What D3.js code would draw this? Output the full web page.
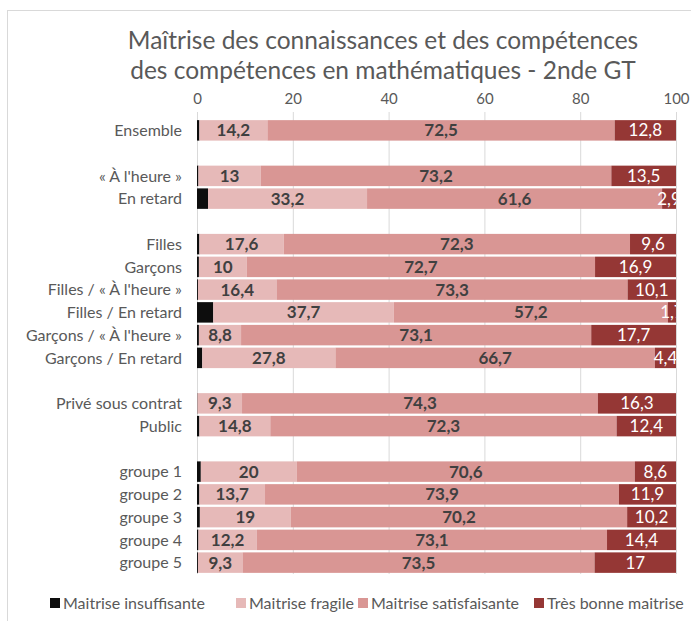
<!DOCTYPE html>
<html>
<head>
<meta charset="utf-8">
<script src="https://cdn.jsdelivr.net/npm/d3@7"></script>
<style>
  body { margin: 0; background: #fff; }
  text { font-family: Lato, "Open Sans", sans-serif; }
</style>
</head>
<body>
<svg id="chart" width="691" height="621"></svg>
<script>
// categories ("_b" entries are the blank separator rows)
const categories = [
	"Ensemble", "_b1",
	"« À l'heure »", "En retard", "_b2",
	"Filles", "Garçons", "Filles / « À l'heure »", "Filles / En retard",
	"Garçons / « À l'heure »", "Garçons / En retard", "_b3",
	"Privé sous contrat", "Public", "_b4",
	"groupe 1", "groupe 2", "groupe 3", "groupe 4", "groupe 5"
];

const seriesNames = ["Maitrise insuffisante", "Maitrise fragile", "Maitrise satisfaisante", "Très bonne maitrise"];

const insuffisante = [0.5, null, 0.3, 2.3, null, 0.5, 0.4, 0.2, 3.4, 0.4, 1.1, null, 0.1, 0.5, null, 0.8, 0.5, 0.6, 0.3, 0.2];
const fragile = [14.2, null, 13, 33.2, null, 17.6, 10, 16.4, 37.7, 8.8, 27.8, null, 9.3, 14.8, null, 20, 13.7, 19, 12.2, 9.3];
const satisfaisante = [72.5, null, 73.2, 61.6, null, 72.3, 72.7, 73.3, 57.2, 73.1, 66.7, null, 74.3, 72.3, null, 70.6, 73.9, 70.2, 73.1, 73.5];
const tresBonne = [12.8, null, 13.5, 2.9, null, 9.6, 16.9, 10.1, 1.7, 17.7, 4.4, null, 16.3, 12.4, null, 8.6, 11.9, 10.2, 14.4, 17];

const xTicks = [0, 20, 40, 60, 80, 100];

const colors = ["#0d0d0d", "#e6b9b8", "#d99694", "#953735"];
const labelColors = [null, "#404040", "#404040", "#ffffff"];

const svg = d3.select("#chart");

// frame lines (left / top)
svg.append("line").attr("x1", 7).attr("x2", 691).attr("y1", 10.5).attr("y2", 10.5)
	.attr("stroke", "#d9d9d9");
svg.append("line").attr("x1", 7.5).attr("x2", 7.5).attr("y1", 10).attr("y2", 621)
	.attr("stroke", "#d9d9d9");

// title
const title = svg.append("text")
	.attr("text-anchor", "middle")
	.attr("fill", "#595959")
	.style("font-size", "24.5px");
title.append("tspan").attr("x", 383).attr("y", 49).text("Maîtrise des connaissances et des compétences");
title.append("tspan").attr("x", 383).attr("y", 79).text("des compétences en mathématiques - 2nde GT");

const x = d3.scaleLinear().domain([0, 100]).range([197, 676]);
const y = d3.scaleBand().domain(categories).range([119, 574]).paddingInner(0.1).paddingOuter(0.05);

// gridlines
svg.append("g")
	.selectAll("line")
	.data(xTicks)
	.join("line")
	.attr("x1", d => x(d) + 0.5)
	.attr("x2", d => x(d) + 0.5)
	.attr("y1", 112)
	.attr("y2", 574)
	.attr("stroke", "#d9d9d9");

// top axis labels
const xAxis = d3.axisTop(x).tickValues(xTicks).tickSize(0).tickPadding(0);
const axisG = svg.append("g")
	.attr("transform", "translate(0,104)")
	.call(xAxis);
axisG.select(".domain").remove();
axisG.selectAll("text")
	.attr("fill", "#595959")
	.style("font-size", "15px")
	.style("font-family", "Lato, sans-serif");

// stacked data
const rows = categories.map((c, i) => ({
	cat: c,
	vals: [insuffisante[i], fragile[i], satisfaisante[i], tresBonne[i]]
})).filter(d => d.vals[0] !== null);

const stack = d3.stack()
	.keys([0, 1, 2, 3])
	.value((d, k) => d.vals[k]);
const series = stack(rows);

svg.append("defs").append("clipPath").attr("id", "plotClip")
	.append("rect").attr("x", 190).attr("y", 110).attr("width", 486).attr("height", 470);

const barsG = svg.append("g");
series.forEach((s, k) => {
	barsG.append("g")
		.attr("fill", colors[k])
		.selectAll("rect")
		.data(s)
		.join("rect")
		.attr("x", d => x(d[0]))
		.attr("width", d => x(d[1]) - x(d[0]))
		.attr("y", d => y(d.data.cat))
		.attr("height", y.bandwidth());
});

// value labels
const labelsG = svg.append("g").attr("clip-path", "url(#plotClip)");
series.forEach((s, k) => {
	if (k === 0) return;
	labelsG.append("g")
		.selectAll("text")
		.data(s)
		.join("text")
		.attr("x", d => (x(d[0]) + x(d[1])) / 2)
		.attr("y", d => y(d.data.cat) + y.bandwidth() / 2)
		.attr("dy", "0.36em")
		.attr("text-anchor", "middle")
		.attr("fill", labelColors[k])
		.style("font-size", "17px")
		.style("font-weight", k === 3 ? "normal" : "bold")
		.text(d => String(d.data.vals[k]).replace(".", ","));
});

// category labels
svg.append("g")
	.selectAll("text")
	.data(rows)
	.join("text")
	.attr("x", 182)
	.attr("y", d => y(d.cat) + y.bandwidth() / 2)
	.attr("dy", "0.36em")
	.attr("text-anchor", "end")
	.attr("fill", "#595959")
	.style("font-size", "16px")
	.text(d => d.cat);

// legend
const legendX = [50, 236, 358, 534];
const legend = svg.append("g")
	.selectAll("g")
	.data(seriesNames)
	.join("g")
	.attr("transform", (d, i) => `translate(${legendX[i]},603)`);
legend.append("rect")
	.attr("x", 0).attr("y", -5).attr("width", 10).attr("height", 10)
	.attr("fill", (d, i) => colors[i]);
legend.append("text")
	.attr("x", 13)
	.attr("dy", "0.36em")
	.attr("fill", "#595959")
	.style("font-size", "16px")
	.text(d => d);
</script>
</body>
</html>
